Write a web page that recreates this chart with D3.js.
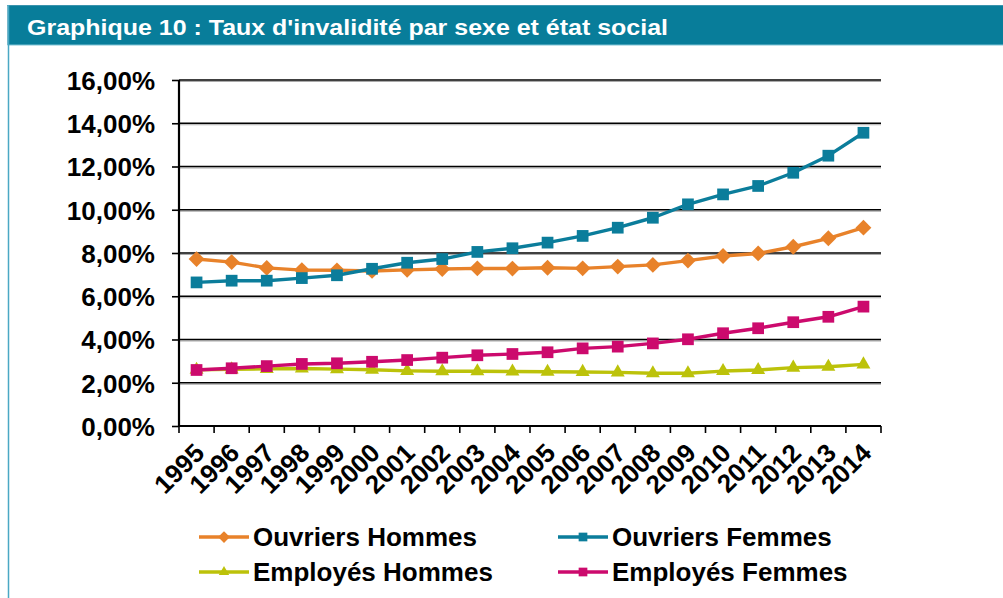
<!DOCTYPE html>
<html><head><meta charset="utf-8">
<script src="https://cdn.jsdelivr.net/npm/d3@7"></script>
<style>
html,body{margin:0;padding:0;background:#fff;}
svg{display:block;font-family:"Liberation Sans",Arial,sans-serif;}
</style></head>
<body>
<svg id="c" width="1003" height="598"></svg>
<script>
const title = "Graphique 10 : Taux d'invalidité par sexe et état social";
const years = ["1995","1996","1997","1998","1999","2000","2001","2002","2003","2004","2005","2006","2007","2008","2009","2010","2011","2012","2013","2014"];
const ouvriersHommes = [7.72,7.58,7.31,7.21,7.20,7.17,7.22,7.26,7.29,7.28,7.32,7.29,7.37,7.45,7.65,7.86,7.98,8.29,8.68,9.17];
const ouvriersFemmes = [6.64,6.72,6.72,6.84,6.97,7.27,7.55,7.72,8.05,8.22,8.48,8.79,9.17,9.63,10.25,10.71,11.10,11.71,12.50,13.56];
const employesHommes = [2.60,2.62,2.64,2.66,2.63,2.60,2.55,2.53,2.53,2.52,2.51,2.50,2.48,2.44,2.44,2.54,2.59,2.70,2.74,2.85];
const employesFemmes = [2.59,2.67,2.77,2.87,2.90,2.97,3.05,3.16,3.27,3.33,3.41,3.59,3.67,3.82,4.01,4.29,4.52,4.80,5.05,5.52];
const seriesNames = ["Ouvriers Hommes","Ouvriers Femmes","Employés Hommes","Employés Femmes"];
const yTicks = [0,2,4,6,8,10,12,14,16];

const series = [
  {name:seriesNames[0], values:ouvriersHommes, color:"#E8822A", sym:d3.symbolDiamond2, size:160},
  {name:seriesNames[1], values:ouvriersFemmes, color:"#0B7D9B", sym:d3.symbolSquare2, size:175},
  {name:seriesNames[2], values:employesHommes, color:"#BCC20A", sym:d3.symbolTriangle2, size:140},
  {name:seriesNames[3], values:employesFemmes, color:"#CC0A6D", sym:d3.symbolSquare2, size:175}
];

const svg = d3.select("#c");
// header & frame
svg.append("rect").attr("x",7.5).attr("y",5).attr("width",996).attr("height",40).attr("fill","#087D9A");
svg.append("line").attr("x1",7.5).attr("x2",1003).attr("y1",5.5).attr("y2",5.5).attr("stroke","#3A93AD").attr("stroke-width",1);
svg.append("line").attr("x1",7.5).attr("x2",1003).attr("y1",45).attr("y2",45).attr("stroke","#7FC4D6").attr("stroke-width",1.2);
svg.append("line").attr("x1",8.5).attr("x2",8.5).attr("y1",5).attr("y2",598).attr("stroke","#4AA8C4").attr("stroke-width",1.5);
svg.append("text").attr("x",27).attr("y",35).attr("fill","#fff").attr("font-weight","bold")
  .attr("font-size",22).attr("textLength",641).attr("lengthAdjust","spacingAndGlyphs").text(title);

const x = d3.scaleBand().domain(years).range([179,881]).padding(0);
const y = d3.scaleLinear().domain([0,16]).range([426,80]);
const loc = d3.formatLocale({decimal:",",thousands:" ",grouping:[3],currency:["","€"]});
const fmt = v => loc.format(".2f")(v) + "%";

// gridlines with slight shadow
const grid = svg.append("g");
yTicks.filter(t=>t>0).forEach(t=>{
  grid.append("line").attr("x1",179).attr("x2",881).attr("y1",y(t)+1.5).attr("y2",y(t)+1.5).attr("stroke","#aaa").attr("stroke-width",1.2);
  grid.append("line").attr("x1",179).attr("x2",881).attr("y1",y(t)).attr("y2",y(t)).attr("stroke","#000").attr("stroke-width",1.6);
});

// y axis
const ya = svg.append("g").attr("transform","translate(179,0)")
  .call(d3.axisLeft(y).tickValues(yTicks).tickFormat(fmt).tickSize(7).tickPadding(17));
ya.select(".domain").attr("stroke","#000").attr("stroke-width",2.2).attr("d","M0,80V426");
ya.selectAll(".tick line").attr("stroke","#000").attr("stroke-width",1.6);
ya.selectAll("text").attr("font-size",26).attr("font-weight","bold").attr("fill","#000")
  .attr("font-family","'Liberation Sans',Arial,sans-serif").attr("dy","0.36em");

// x axis
const xa = svg.append("g").attr("transform","translate(0,426)")
  .call(d3.axisBottom(x).tickSize(0).tickPadding(0));
xa.select(".domain").attr("stroke","#000").attr("stroke-width",2.2).attr("d","M179,0H881");
xa.selectAll(".tick text").attr("font-size",26).attr("font-weight","bold").attr("fill","#000")
  .attr("font-family","'Liberation Sans',Arial,sans-serif")
  .attr("text-anchor","end").attr("dy","0.35em").attr("y",0)
  .attr("transform","translate(3,22) rotate(-45)");
const bounds = years.map(d=>x(d)).concat([x.range()[1]]);
xa.selectAll(".bt").data(bounds).enter().append("line").attr("class","bt")
  .attr("x1",d=>d).attr("x2",d=>d).attr("y1",0).attr("y2",7).attr("stroke","#000").attr("stroke-width",1.6);

// series
const cx = d => x(d) + x.bandwidth()/2;
const line = d3.line().x((v,i)=>cx(years[i])).y(v=>y(v));
series.forEach(s=>{
  const g = svg.append("g");
  g.append("path").attr("d",line(s.values)).attr("fill","none").attr("stroke",s.color).attr("stroke-width",3.4).attr("stroke-linejoin","round");
  g.selectAll("path.m").data(s.values).enter().append("path").attr("class","m")
    .attr("d",d3.symbol().type(s.sym).size(s.size)())
    .attr("transform",(v,i)=>`translate(${cx(years[i])},${y(v)})`)
    .attr("fill",s.color);
});

// legend
const legPos = [[199,537],[558,537],[199,572],[558,572]];
series.forEach((s,i)=>{
  const [lx,ly] = legPos[i];
  const g = svg.append("g").attr("transform",`translate(${lx},${ly})`);
  g.append("line").attr("x1",0).attr("x2",50).attr("y1",0).attr("y2",0).attr("stroke",s.color).attr("stroke-width",3.4);
  g.append("path").attr("d",d3.symbol().type(s.sym).size(s.size*0.55)()).attr("transform","translate(25,0)").attr("fill",s.color);
  g.append("text").attr("x",54).attr("y",0).attr("dy","0.36em").attr("font-size",26).attr("font-weight","bold").attr("fill","#000").text(s.name);
});
</script>
</body></html>
